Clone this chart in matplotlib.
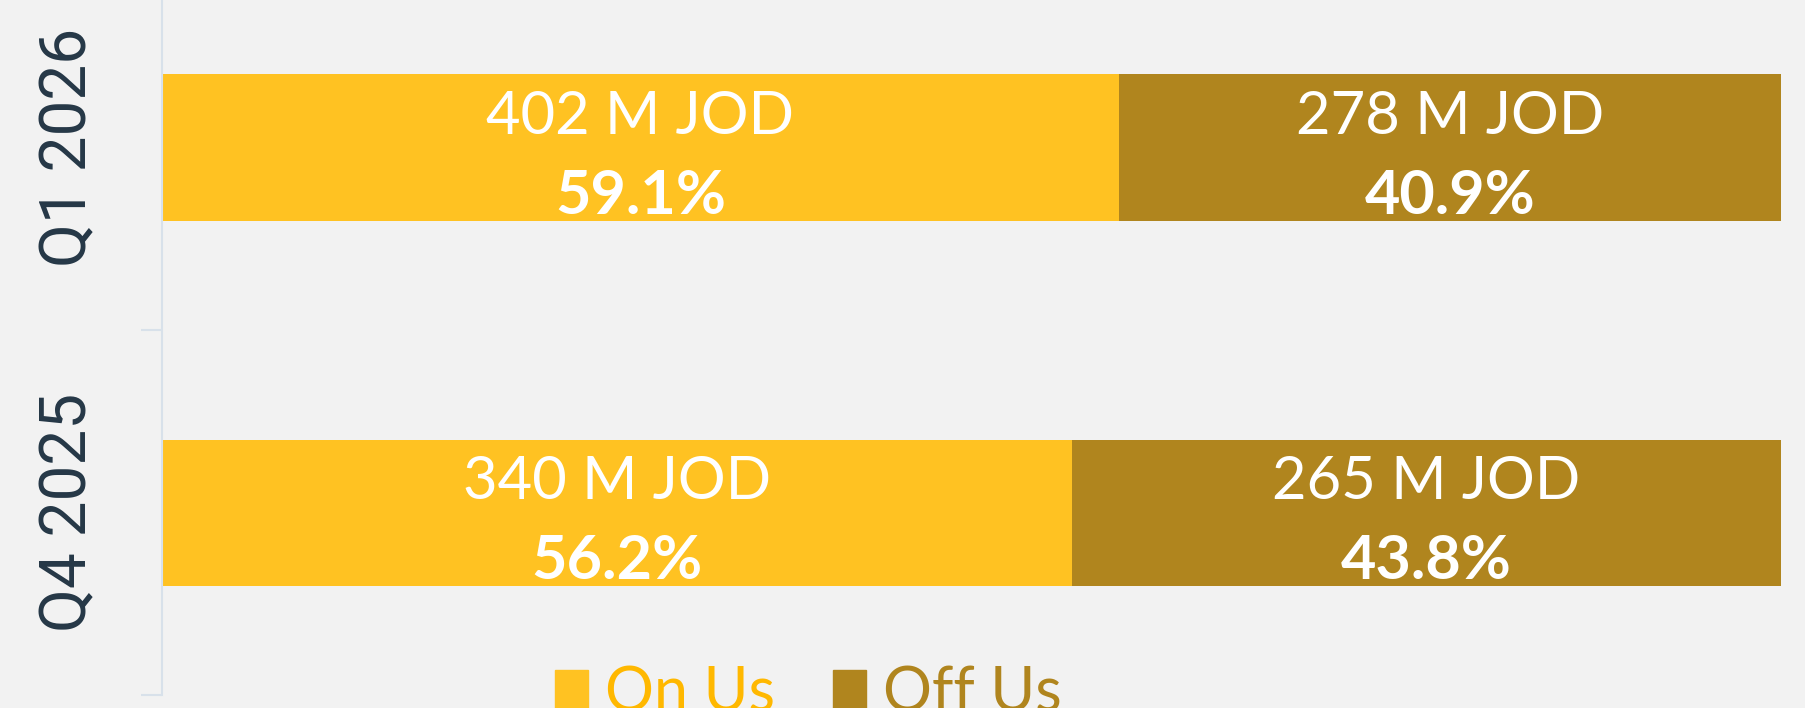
import matplotlib.pyplot as plt
from matplotlib.patches import Patch
import numpy as np

# data
quarters = ['Q4 2025', 'Q1 2026']
on_us = [340, 402]      # M JOD
off_us = [265, 278]     # M JOD
on_pct = [56.2, 59.1]
off_pct = [43.8, 40.9]

bg = '#F2F2F2'
on_color = '#FFC222'
off_color = '#B0851E'
axis_color = '#D8E1EA'
label_color = '#253746'

fig = plt.figure(figsize=(18.06, 7.08), dpi=100, facecolor=bg)
# axes runs above the top of the figure, like the original
ax = fig.add_axes([162 / 1806, 13 / 708, (1781 - 162) / 1806, 730 / 708])
ax.set_facecolor(bg)

y = np.arange(len(quarters))
ax.barh(y, on_pct, height=0.4, color=on_color)
ax.barh(y, off_pct, left=on_pct, height=0.4, color=off_color)

for i in range(len(quarters)):
    segs = [(on_pct[i] / 2, on_us[i], on_pct[i]),
            (on_pct[i] + off_pct[i] / 2, off_us[i], off_pct[i])]
    for xc, amt, pct in segs:
        ax.annotate(f'{amt} M JOD', xy=(xc, i), xytext=(0, 9.7),
                    textcoords='offset points', ha='center', va='baseline',
                    color='white', fontsize=43, family='Lato', weight='normal')
        ax.annotate(f'{pct:.1f}%', xy=(xc, i), xytext=(0, -48),
                    textcoords='offset points', ha='center', va='baseline',
                    color='white', fontsize=44, family='Lato', weight='bold')

ax.set_xlim(0, 100)
ax.set_ylim(-0.5, 1.5)
ax.set_xticks([])
ax.set_yticks(y)
ax.set_yticklabels(quarters, rotation=90, va='center', family='Roboto',
                   fontsize=46, color=label_color)
ax.set_yticks([-0.5, 0.5, 1.5], minor=True)
ax.tick_params(axis='y', which='major', length=0, pad=45)
ax.tick_params(axis='y', which='minor', length=15, width=1.5, color=axis_color)

for s in ['top', 'right', 'bottom']:
    ax.spines[s].set_visible(False)
ax.spines['left'].set_color(axis_color)
ax.spines['left'].set_linewidth(1.5)

handles = [Patch(color=on_color, label='On Us'), Patch(color=off_color, label='Off Us')]
fig.legend(handles=handles, loc='upper left', bbox_to_anchor=(555 / 1806, 1 - 666 / 708),
           ncol=2, frameon=False, prop={'family': 'Lato', 'weight': 'normal', 'size': 44},
           labelcolor=['#FFB800', off_color], handlelength=0.54, handleheight=0.65,
           handletextpad=0.28, columnspacing=0.95, borderpad=0, borderaxespad=0)

fig.savefig('out.png', dpi=100, facecolor=bg)
